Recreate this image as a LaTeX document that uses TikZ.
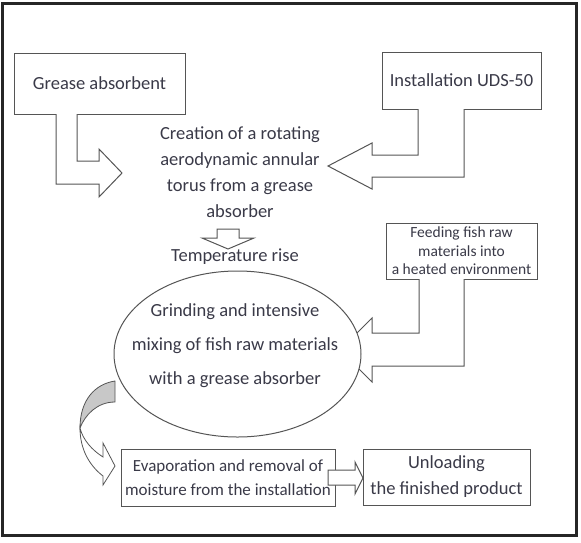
\documentclass[tikz,border=0pt]{standalone}
\usepackage{fontspec}
\setmainfont{Carlito}
\usetikzlibrary{shapes.geometric}
\definecolor{txtgray}{RGB}{58,58,72}
\definecolor{linegray}{RGB}{85,85,85}
\definecolor{shadegray}{RGB}{200,200,200}

\begin{document}
\begin{tikzpicture}[x=1pt, y=-1pt,
  every node/.style={text=txtgray},
  box/.style={draw=linegray, line width=1pt, fill=white, inner sep=0pt},
  bigtext/.style={font=\fontsize{18.5}{26}\selectfont, align=center},
  blockarrow/.style={draw=linegray, line width=1pt, fill=white, line join=miter}]

  % Frame round the scheme
  \useasboundingbox (0,0) rectangle (581,542);
  \draw[line width=3pt, black!85] (2,3) rectangle (576,535);

  % Sources
  \node[box, bigtext, minimum width=171pt, minimum height=61pt] (grease) at (99.5,83.5) {Grease absorbent};
  \node[box, bigtext, minimum width=159pt, minimum height=57pt] (uds) at (461.5,80.5) {Installation UDS-50};

  % Torus creation
  \node[bigtext] (torus) at (240,172) {Creation of a rotating\\aerodynamic annular\\torus from a grease\\absorber};

  \draw[blockarrow] (56,114) -- (56,184) -- (99,184) -- (99,197) -- (122,173) -- (99,149) -- (99,161) -- (77,161) -- (77,114);
  \draw[blockarrow] (418,109) -- (418,155) -- (372,155) -- (372,143) -- (328,166) -- (372,189) -- (372,177) -- (464,177) -- (464,109);

  % Temperature rise
  \draw[blockarrow] (217,229) -- (217,238) -- (202,238) -- (228,249) -- (254,238) -- (239,238) -- (239,229) -- cycle;
  \node[bigtext] (temp) at (235,257) {Temperature rise};

  % Feeding raw materials
  \node[box, font=\fontsize{15.5}{18.5}\selectfont, align=center, minimum width=151pt, minimum height=56pt] (feed) at (461.5,251) {Feeding fish raw\\materials into\\a heated environment};
  \draw[blockarrow] (419,279) -- (419,333) -- (372,333) -- (372,318) -- (340,350) -- (372,382) -- (372,366) -- (464,366) -- (464,279);

  % Grinding and mixing
  \node[ellipse, draw=linegray, line width=1pt, fill=white, inner sep=0pt, minimum width=247pt, minimum height=166pt] (grind) at (237.5,354) {};
  \node[font=\fontsize{18.5}{34}\selectfont, align=center] (grindtxt) at (235,346) {Grinding and intensive\\mixing of fish raw materials\\with a grease absorber};

  % Curved arrow down to evaporation
  \filldraw[draw=linegray, fill=shadegray, line width=0.8pt] (115,381) .. controls (95,384) and (80,400) .. (80,428) .. controls (85,415) and (97,402) .. (115,402) -- cycle;
  \filldraw[draw=linegray, fill=white, line width=0.8pt] (80,428) .. controls (80,450) and (90,466) .. (103,476) -- (103,485) -- (115,466) -- (103,443) -- (103,457) .. controls (92,450) and (83,440) .. (80,428) -- cycle;

  % Final steps
  \node[box, font=\fontsize{17}{24.5}\selectfont, align=center, minimum width=214pt, minimum height=57pt] (evap) at (228,477.5) {Evaporation and removal of\\moisture from the installation};
  \node[box, bigtext, minimum width=167pt, minimum height=56pt] (unload) at (446.5,477) {Unloading\\the finished product};

  \draw[blockarrow] (328,470) -- (355,470) -- (355,462) -- (363,478) -- (355,494) -- (355,485) -- (328,485) -- cycle;

\end{tikzpicture}
\end{document}
